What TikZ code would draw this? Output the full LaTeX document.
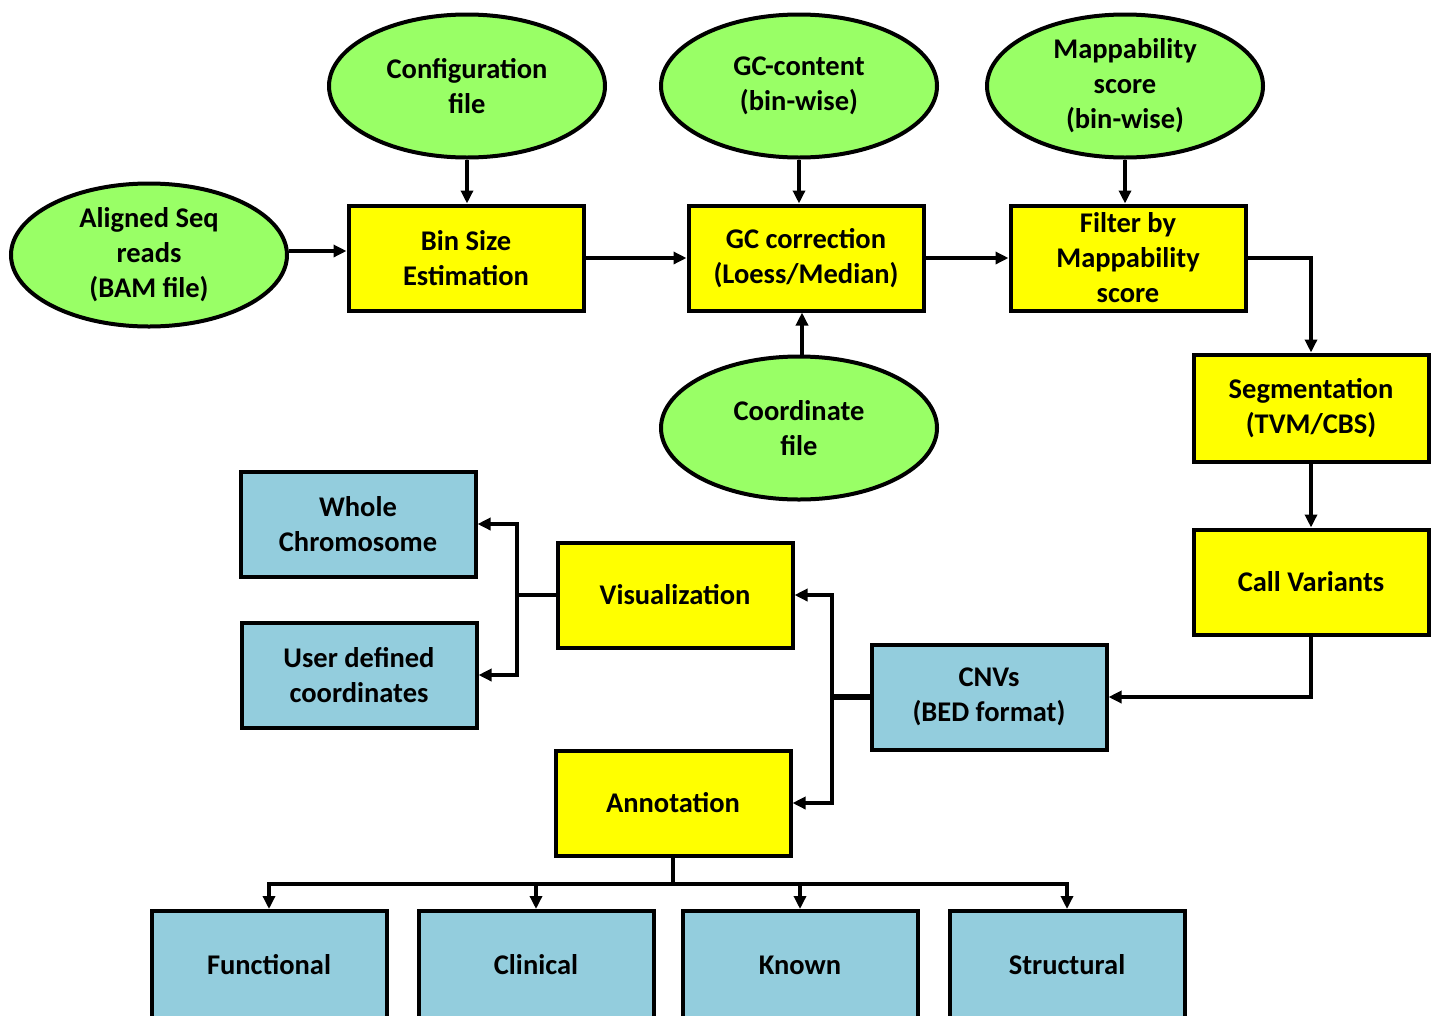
\documentclass[tikz,border=0pt]{standalone}
\usepackage{fontspec}
\setmainfont{Carlito}
\usetikzlibrary{shapes.geometric,arrows.meta}
\definecolor{grn}{RGB}{153,255,102}
\definecolor{ylw}{RGB}{255,255,0}
\definecolor{blu}{RGB}{147,205,221}
\begin{document}
\begin{tikzpicture}[x=1pt,y=-1pt,
  every node/.style={font=\bfseries\fontsize{28.5}{35}\selectfont, align=center},
  boxbase/.style={rectangle, draw, line width=4pt, minimum width=235pt, minimum height=105pt, inner sep=0pt},
  yel/.style={boxbase, fill=ylw},
  blue/.style={boxbase, fill=blu},
  ell/.style={ellipse, draw, line width=4pt, fill=grn, minimum width=276pt, minimum height=143pt, inner sep=0pt},
  conn/.style={line width=3.5pt},
  arr/.style={line width=3.5pt, -{Triangle[length=13pt,width=12pt]}}]
\clip (0,0) rectangle (1434,1015);
\fill[white] (0,0) rectangle (1434,1015);
% ellipses
\node[ell] (aligned) at (149,255) {Aligned Seq\\reads\\(BAM file)};
\node[ell] (config) at (467,86) {Configuration\\file};
\node[ell] (gccont) at (799,86) {GC-content\\(bin-wise)};
\node[ell] (mapp) at (1125,86) {Mappability\\score\\(bin-wise)};
\node[ell] (coord) at (799,428) {Coordinate\\file};
% yellow boxes
\node[yel] (bin) at (466,258) {Bin Size\\Estimation};
\node[yel] (gccorr) at (806,258) {GC correction\\(Loess/Median)};
\node[yel] (filter) at (1128,258) {Filter by\\Mappability\\score};
\node[yel, minimum height=107pt] (seg) at (1311,408) {Segmentation\\(TVM/CBS)};
\node[yel] (call) at (1311,582) {Call Variants};
\node[yel] (vis) at (675,595) {Visualization};
\node[yel] (ann) at (673,803) {Annotation};
% blue boxes
\node[blue] (cnv) at (989,697) {CNVs\\(BED format)};
\node[blue] (whole) at (358,524) {Whole\\Chromosome};
\node[blue] (user) at (359,675) {User defined\\coordinates};
\node[blue, minimum height=108pt] (func) at (269,965) {Functional};
\node[blue, minimum height=108pt] (clin) at (536,965) {Clinical};
\node[blue, minimum height=108pt] (known) at (800,965) {Known};
\node[blue, minimum height=108pt] (struct) at (1067,965) {Structural};
% connectors
\draw[arr] (aligned.east |- 0,251) -- (bin.west |- 0,251);
\draw[arr] (config.south) -- (config.south |- bin.north);
\draw[arr] (bin.east) -- (gccorr.west);
\draw[arr] (gccont.south) -- (gccont.south |- gccorr.north);
\draw[arr] (coord.north -| 802,0) -- (gccorr.south -| 802,0);
\draw[arr] (gccorr.east) -- (filter.east -| filter.west);
\draw[arr] (mapp.south) -- (mapp.south |- filter.north);
\draw[arr] (filter.east) -| (seg.north);
\draw[arr] (seg.south) -- (call.north);
\draw[arr] (call.south) |- (cnv.east);
\coordinate (j1) at (832,697);
\draw[line width=5.5pt] (cnv.west) -- (j1);
\draw[arr] (j1) |- (vis.east);
\draw[arr] (j1) |- (ann.east);
\coordinate (j2) at (517,595);
\draw[conn] (vis.west) -- (j2);
\draw[arr] (j2) |- (whole.east);
\draw[arr] (j2) |- (user.east);
\coordinate (j3) at (673,884);
\draw[conn] (ann.south) -- (j3);
\draw[arr] (j3) -| (func.north);
\draw[arr] (j3) -| (clin.north);
\draw[arr] (j3) -| (known.north);
\draw[arr] (j3) -| (struct.north);
\end{tikzpicture}
\end{document}
